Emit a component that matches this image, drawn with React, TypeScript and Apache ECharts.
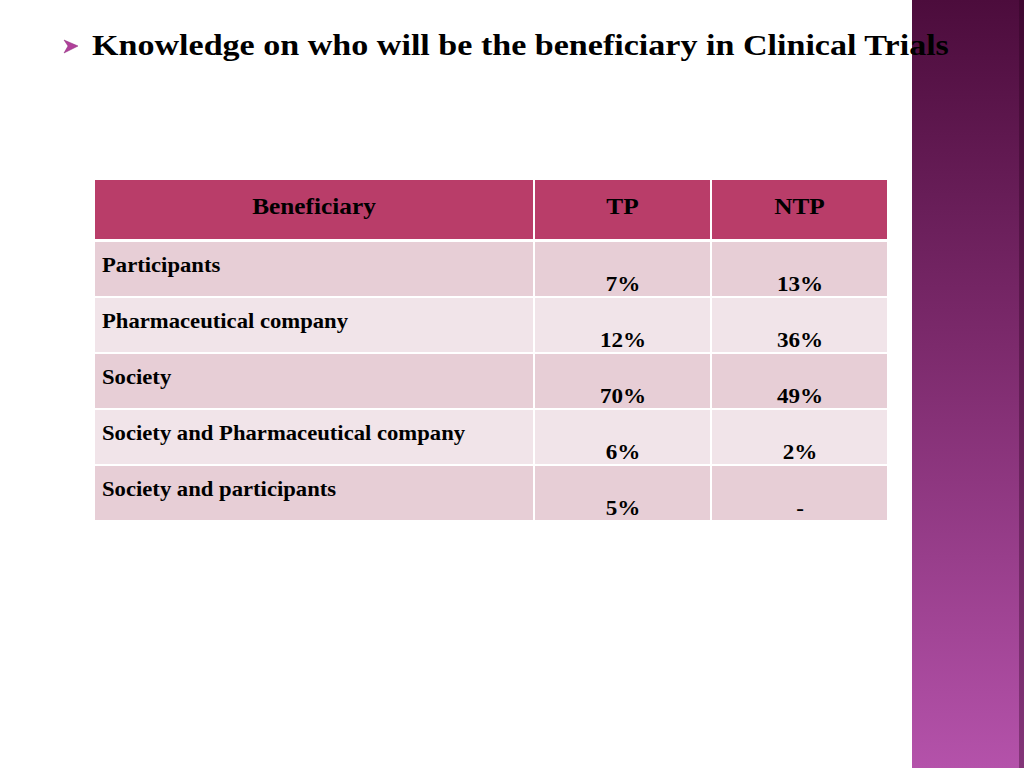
import React, { useEffect, useRef } from "react";
import * as echarts from "echarts";

const title = "Knowledge on who will be the beneficiary in Clinical Trials";
const headers = ["Beneficiary", "TP", "NTP"];
const categories = [
  "Participants",
  "Pharmaceutical company",
  "Society",
  "Society and Pharmaceutical company",
  "Society and participants",
];
const tpValues = ["7%", "12%", "70%", "6%", "5%"];
const ntpValues = ["13%", "36%", "49%", "2%", "-"];

export default function App() {
  const ref = useRef<HTMLDivElement>(null);
  useEffect(() => {
    document.body.style.margin = "0";
    const chart = echarts.init(ref.current!, null, { renderer: "svg" });
    const font = "'Liberation Serif', 'Times New Roman', serif";
    const colX = [95, 535, 712];
    const colW = [438, 175, 175];
    const headerY = 180;
    const headerH = 59;
    const rowY0 = 242;
    const rowH = 54;
    const rowGap = 2;
    const bg: any[] = [];
    const texts: any[] = [];

    const txt = (
      text: string,
      x: number,
      y: number,
      size: number,
      sx: number,
      align: string
    ) => ({
      type: "text",
      x,
      y,
      scaleX: sx,
      style: {
        text,
        x: 0,
        y: 0,
        fill: "#000",
        font: `bold ${size}px ${font}`,
        textAlign: align,
        textVerticalAlign: "middle",
      },
    });

    // right decorative bar
    bg.push({
      type: "rect",
      shape: { x: 912, y: 0, width: 112, height: 768 },
      style: {
        fill: new echarts.graphic.LinearGradient(0, 0, 0, 1, [
          { offset: 0, color: "#4c0c3c" },
          { offset: 0.45, color: "#7c2a6c" },
          { offset: 1, color: "#b452aa" },
        ]),
      },
    });
    bg.push({
      type: "rect",
      shape: { x: 1019, y: 0, width: 5, height: 768 },
      style: { fill: "rgba(40,0,30,0.35)" },
    });

    // header
    headers.forEach((h, i) => {
      bg.push({
        type: "rect",
        shape: { x: colX[i], y: headerY, width: colW[i], height: headerH },
        style: { fill: "#b93d69" },
      });
      texts.push(txt(h, colX[i] + colW[i] / 2, headerY + 26, 23, 1.1, "center"));
    });

    categories.forEach((cat, r) => {
      const y = rowY0 + r * (rowH + rowGap);
      const fill = r % 2 === 0 ? "#e7ced6" : "#f1e4e9";
      const vals = [cat, tpValues[r], ntpValues[r]];
      vals.forEach((v, c) => {
        bg.push({
          type: "rect",
          shape: { x: colX[c], y, width: colW[c], height: rowH },
          style: { fill },
        });
        if (c === 0) {
          texts.push(txt(v, colX[c] + 7, y + 23, 22, 1.03, "left"));
        } else {
          texts.push(txt(v, colX[c] + colW[c] / 2 + 0.5, y + 42, 22, 1.05, "center"));
        }
      });
    });

    // bullet arrow + title (on top of bar)
    texts.push({
      type: "polygon",
      shape: { points: [[64, 40], [78, 46], [64, 53], [68, 46]] },
      style: { fill: "#b0409a", stroke: "#8a2a7a", lineWidth: 0.5 },
    });
    texts.push(txt(title, 92, 45, 29, 1.175, "left"));

    chart.setOption({
      animation: false,
      backgroundColor: "#ffffff",
      graphic: { elements: [...bg, ...texts] },
    });
    return () => chart.dispose();
  }, []);
  return (
    <div
      ref={ref}
      style={{ position: "fixed", left: 0, top: 0, width: 1024, height: 768 }}
    />
  );
}
